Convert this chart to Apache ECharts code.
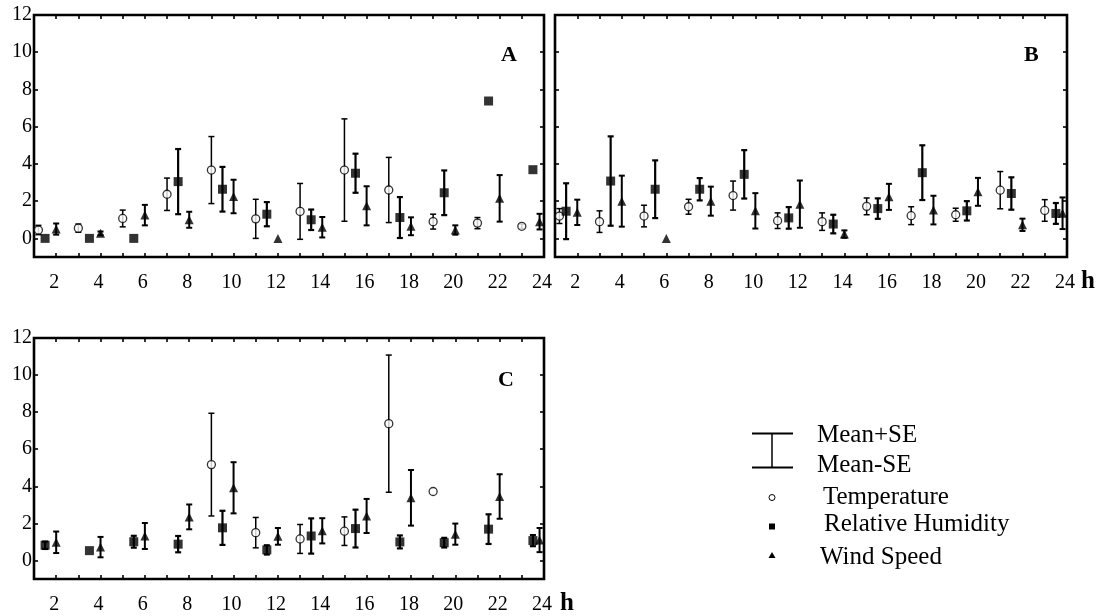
<!DOCTYPE html>
<html>
<head>
<meta charset="utf-8">
<script src="https://cdn.jsdelivr.net/npm/echarts@6/dist/echarts.min.js"></script>
<style>
html,body{margin:0;padding:0;background:#fff;}
#chart{width:1109px;height:616px;}
</style>
</head>
<body>
<div id="chart"></div>
<script>
// Hours at which each variable is plotted (hour of day, h)
const tempHours = [1.2, 3, 5, 7, 9, 11, 13, 15, 17, 19, 21, 23];
const humHours  = [1.5, 3.5, 5.5, 7.5, 9.5, 11.5, 13.5, 15.5, 17.5, 19.5, 21.5, 23.5];
const windHours = [2, 4, 6, 8, 10, 12, 14, 16, 18, 20, 22, 23.8];

const xTickLabels = [2, 4, 6, 8, 10, 12, 14, 16, 18, 20, 22, 24];
const yTickLabels = [0, 2, 4, 6, 8, 10, 12];

// Panel A
const A_temp   = [0.45, 0.55, 1.07, 2.37, 3.67, 1.05, 1.45, 3.67, 2.6, 0.9, 0.82, 0.65];
const A_tempSE = [0.25, 0.22, 0.45, 0.87, 1.8, 1.05, 1.5, 2.75, 1.75, 0.4, 0.3, 0.12];
const A_hum    = [0, 0, 0, 3.05, 2.64, 1.3, 1.0, 3.5, 1.12, 2.45, 7.38, 3.69];
const A_humSE  = [0, 0, 0, 1.75, 1.2, 0.65, 0.55, 1.05, 1.1, 1.2, 0, 0];
const A_wind   = [0.5, 0.27, 1.25, 1.0, 2.25, 0, 0.6, 1.75, 0.65, 0.45, 2.15, 0.9];
const A_windSE = [0.3, 0.1, 0.55, 0.43, 0.9, 0, 0.55, 1.05, 0.48, 0.25, 1.25, 0.42];

// Panel B
const B_temp   = [1.2, 0.9, 1.2, 1.7, 2.3, 0.95, 0.9, 1.72, 1.22, 1.27, 2.59, 1.5];
const B_tempSE = [0.4, 0.58, 0.58, 0.4, 0.78, 0.42, 0.47, 0.45, 0.48, 0.35, 1.0, 0.58];
const B_hum    = [1.46, 3.08, 2.64, 2.64, 3.44, 1.1, 0.77, 1.6, 3.53, 1.48, 2.41, 1.34];
const B_humSE  = [1.5, 2.4, 1.55, 0.6, 1.3, 0.58, 0.5, 0.55, 1.47, 0.52, 0.87, 0.56];
const B_wind   = [1.4, 2.0, 0, 2.0, 1.48, 1.84, 0.23, 2.23, 1.52, 2.5, 0.73, 1.35];
const B_windSE = [0.68, 1.37, 0, 0.78, 0.95, 1.27, 0.2, 0.7, 0.77, 0.75, 0.33, 0.85];

// Panel C
const C_temp   = [null, null, null, null, 5.17, 1.5, 1.16, 1.58, 7.38, 3.72, null, null];
const C_tempSE = [null, null, null, null, 2.77, 0.82, 0.78, 0.77, 3.7, 0, null, null];
const C_hum    = [0.82, 0.53, 1.01, 0.88, 1.76, 0.57, 1.32, 1.72, 1.0, 0.96, 1.69, 1.07];
const C_humSE  = [0.2, 0, 0.32, 0.44, 0.92, 0.25, 0.95, 1.02, 0.35, 0.26, 0.8, 0.3];
const C_wind   = [0.98, 0.72, 1.32, 2.35, 3.92, 1.3, 1.6, 2.4, 3.38, 1.42, 3.45, 1.1];
const C_windSE = [0.58, 0.55, 0.7, 0.67, 1.38, 0.45, 0.68, 0.92, 1.5, 0.57, 1.2, 0.65];

const panelLetters = ['A', 'B', 'C'];
const legendLabels = ['Mean+SE', 'Mean-SE', 'Temperature', 'Relative Humidity', 'Wind Speed'];
const unitLabel = 'h';

const panels = [
  {temp: A_temp, tempSE: A_tempSE, hum: A_hum, humSE: A_humSE, wind: A_wind, windSE: A_windSE},
  {temp: B_temp, tempSE: B_tempSE, hum: B_hum, humSE: B_humSE, wind: B_wind, windSE: B_windSE},
  {temp: C_temp, tempSE: C_tempSE, hum: C_hum, humSE: C_humSE, wind: C_wind, windSE: C_windSE}
];

const FONT = "'Liberation Serif', 'Times New Roman', 'DejaVu Serif', serif";
const grids = [
  {left: 34, top: 15, width: 510, height: 242},
  {left: 555, top: 15, width: 512, height: 242},
  {left: 34, top: 338, width: 510, height: 241}
];
const showYLabels = [true, false, true];

const xAxes = [], yAxes = [], series = [];
const tickStyle = {color: '#000', width: 1.6};
const evenOnly = v => (Math.round(v) % 2 === 0 && v > 0.5 ? String(v) : '');

grids.forEach((g, i) => {
  g.show = true; g.borderColor = '#000'; g.borderWidth = 2.6; g.backgroundColor = 'transparent';
  xAxes.push({
    gridIndex: i, type: 'value', min: 1, max: 24, interval: 1, position: 'bottom',
    axisLine: {show: false, onZero: false}, splitLine: {show: false},
    axisTick: {show: true, inside: true, length: 4, lineStyle: tickStyle},
    axisLabel: {show: true, formatter: evenOnly, color: '#000', fontFamily: FONT, fontSize: 20, margin: 16, padding: [0, 4, 0, 0], showMinLabel: true, showMaxLabel: true}
  });
  xAxes.push({
    gridIndex: i, type: 'value', min: 1, max: 24, interval: 1, position: 'top',
    axisLine: {show: false, onZero: false}, splitLine: {show: false},
    axisTick: {show: true, inside: true, length: 4, lineStyle: tickStyle},
    axisLabel: {show: false}
  });
  yAxes.push({
    gridIndex: i, type: 'value', min: -1, max: 12, position: 'left',
    axisLine: {show: false, onZero: false}, splitLine: {show: false},
    axisTick: {show: true, inside: true, length: 4, lineStyle: tickStyle, customValues: yTickLabels},
    axisLabel: {show: showYLabels[i], customValues: yTickLabels, color: '#000', fontFamily: FONT, fontSize: 20, margin: 2, padding: [4, 0, 0, 0]}
  });
  yAxes.push({
    gridIndex: i, type: 'value', min: -1, max: 12, position: 'right',
    axisLine: {show: false, onZero: false}, splitLine: {show: false},
    axisTick: {show: true, inside: true, length: 4, lineStyle: tickStyle, customValues: [0, 2, 4, 6, 8, 10]},
    axisLabel: {show: false}
  });
});

function errRender(lw) {
  return function (params, api) {
    const x = api.value(0), m = api.value(1), s = api.value(2);
    if (m == null || isNaN(m) || !s) return;
    const t = api.coord([x, m + s]);
    const b = api.coord([x, m - s]);
    const hw = 3;
    const st = {stroke: '#000', lineWidth: lw};
    return {type: 'group', children: [
      {type: 'line', shape: {x1: t[0], y1: t[1], x2: b[0], y2: b[1]}, style: st},
      {type: 'line', shape: {x1: t[0] - hw, y1: t[1], x2: t[0] + hw, y2: t[1]}, style: st},
      {type: 'line', shape: {x1: b[0] - hw, y1: b[1], x2: b[0] + hw, y2: b[1]}, style: st}
    ]};
  };
}

const varDefs = [
  {key: 'temp', hours: tempHours, lw: 1.5, symbol: 'circle', size: 8, item: {color: '#fff', borderColor: '#000', borderWidth: 1.3}},
  {key: 'hum', hours: humHours, lw: 2.2, symbol: 'rect', size: 9, item: {color: '#000'}},
  {key: 'wind', hours: windHours, lw: 2, symbol: 'triangle', size: 9, item: {color: '#000'}}
];

panels.forEach((p, i) => {
  varDefs.forEach(v => {
    const means = p[v.key], ses = p[v.key + 'SE'];
    const errData = [], ptData = [];
    v.hours.forEach((h, k) => {
      if (means[k] == null) return;
      errData.push([h, means[k], ses[k] || 0]);
      ptData.push([h, means[k]]);
    });
    series.push({
      type: 'custom', xAxisIndex: i * 2, yAxisIndex: i * 2, renderItem: errRender(v.lw),
      data: errData, encode: {x: 0, y: 1}, z: 2, silent: true, clip: false
    });
    series.push({
      type: 'scatter', xAxisIndex: i * 2, yAxisIndex: i * 2, data: ptData,
      symbol: v.symbol, symbolSize: v.size, itemStyle: v.item, z: 3, silent: true
    });
  });
});

const F = (w, s) => (w ? 'bold ' : '') + s + 'px ' + FONT;
const graphics = [
  {type: 'text', left: 501, top: 44, style: {text: panelLetters[0], font: F(1, 22), fill: '#000'}},
  {type: 'text', left: 1024, top: 44, style: {text: panelLetters[1], font: F(1, 22), fill: '#000'}},
  {type: 'text', left: 498, top: 369, style: {text: panelLetters[2], font: F(1, 22), fill: '#000'}},
  {type: 'text', left: 1081, top: 269, style: {text: unitLabel, font: F(1, 25), fill: '#000'}},
  {type: 'text', left: 560, top: 591, style: {text: unitLabel, font: F(1, 25), fill: '#000'}},
  // legend error-bar glyph
  {type: 'line', shape: {x1: 752, y1: 433.5, x2: 793, y2: 433.5}, style: {stroke: '#000', lineWidth: 2}},
  {type: 'line', shape: {x1: 752, y1: 467.5, x2: 793, y2: 467.5}, style: {stroke: '#000', lineWidth: 2}},
  {type: 'line', shape: {x1: 772, y1: 433.5, x2: 772, y2: 467.5}, style: {stroke: '#000', lineWidth: 1.5}},
  {type: 'text', left: 817, top: 423, style: {text: legendLabels[0], font: F(0, 25), fill: '#000'}},
  {type: 'text', left: 817, top: 453, style: {text: legendLabels[1], font: F(0, 25), fill: '#000'}},
  {type: 'circle', shape: {cx: 772, cy: 497.5, r: 3}, style: {fill: '#fff', stroke: '#000', lineWidth: 1}},
  {type: 'text', left: 823, top: 485, style: {text: legendLabels[2], font: F(0, 25), fill: '#000'}},
  {type: 'rect', shape: {x: 769, y: 523.5, width: 6, height: 6}, style: {fill: '#000'}},
  {type: 'text', left: 824, top: 512, style: {text: legendLabels[3], font: F(0, 25), fill: '#000'}},
  {type: 'polygon', shape: {points: [[772, 552], [775.5, 558], [768.5, 558]]}, style: {fill: '#000'}},
  {type: 'text', left: 820, top: 545, style: {text: legendLabels[4], font: F(0, 25), fill: '#000'}}
];

const chart = echarts.init(document.getElementById('chart'), null, {renderer: 'canvas'});
chart.setOption({
  backgroundColor: '#fff',
  animation: false,
  grid: grids,
  xAxis: xAxes,
  yAxis: yAxes,
  series: series,
  graphic: graphics
});
</script>
</body>
</html>
